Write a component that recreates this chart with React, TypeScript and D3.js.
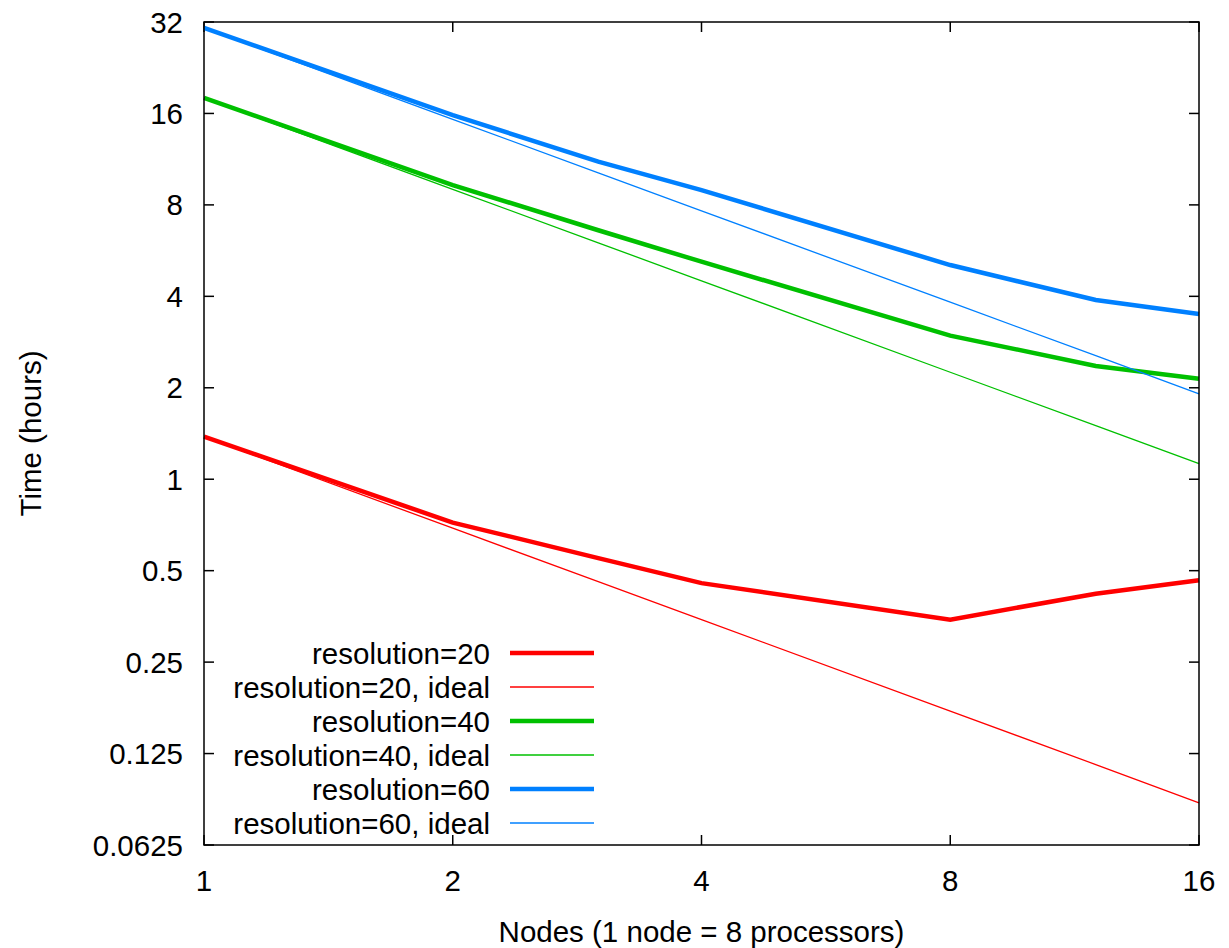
import React from "react";
import * as d3 from "d3";

// nodes on the x axis (log2), times in hours on the y axis (log2)
const nodes = [1, 2, 3, 4, 8, 12, 16];
const res20 = [1.38, 0.72, 0.55, 0.455, 0.345, 0.42, 0.465];
const res20Ideal = [1.38, 0.69, 0.46, 0.345, 0.1725, 0.115, 0.086];
const res40 = [18.0, 9.3, 6.6, 5.2, 2.97, 2.36, 2.14];
const res40Ideal = [18.0, 9.0, 6.0, 4.5, 2.25, 1.5, 1.125];
const res60 = [30.6, 15.8, 11.1, 8.95, 5.07, 3.89, 3.5];
const res60Ideal = [30.6, 15.3, 10.2, 7.65, 3.825, 2.55, 1.91];

const xTicks = [1, 2, 4, 8, 16];
const yTicks = [0.0625, 0.125, 0.25, 0.5, 1, 2, 4, 8, 16, 32];
const yTickLabels = ["0.0625", "0.125", "0.25", "0.5", "1", "2", "4", "8", "16", "32"];

const series = [
  { name: "resolution=20", values: res20, color: "#ff0000", width: 4.5 },
  { name: "resolution=20, ideal", values: res20Ideal, color: "#ff0000", width: 1.3 },
  { name: "resolution=40", values: res40, color: "#00c000", width: 4.5 },
  { name: "resolution=40, ideal", values: res40Ideal, color: "#00c000", width: 1.3 },
  { name: "resolution=60", values: res60, color: "#0080ff", width: 4.5 },
  { name: "resolution=60, ideal", values: res60Ideal, color: "#0080ff", width: 1.3 },
];

const App = () => {
  const width = 1229;
  const height = 948;
  const left = 204;
  const right = 1199;
  const top = 22;
  const bottom = 845;
  const font = "'Liberation Sans', Arial, sans-serif";
  const fontSize = 29.5;

  const x = d3.scaleLog().base(2).domain([1, 16]).range([left, right]);
  const y = d3.scaleLog().base(2).domain([0.0625, 32]).range([bottom, top]);

  const line = d3
    .line<number>()
    .x((_, i) => x(nodes[i]))
    .y((d) => y(d));

  return (
    <svg
      width={width}
      height={height}
      style={{ position: "absolute", left: 0, top: 0, background: "#fff" }}
      fontFamily={font}
      fontSize={fontSize}
    >
      <rect width={width} height={height} fill="#fff" />

      {/* y ticks, both sides */}
      {yTicks.map((t, i) => (
        <g key={t}>
          <line x1={left} x2={left + 10} y1={y(t)} y2={y(t)} stroke="#000" strokeWidth={1.5} />
          <line x1={right - 10} x2={right} y1={y(t)} y2={y(t)} stroke="#000" strokeWidth={1.5} />
          <text x={183} y={y(t)} textAnchor="end" dominantBaseline="central" fill="#000">
            {yTickLabels[i]}
          </text>
        </g>
      ))}

      {/* x ticks, bottom and top */}
      {xTicks.map((t) => (
        <g key={t}>
          <line x1={x(t)} x2={x(t)} y1={bottom} y2={bottom - 10} stroke="#000" strokeWidth={1.5} />
          <line x1={x(t)} x2={x(t)} y1={top} y2={top + 10} stroke="#000" strokeWidth={1.5} />
          <text x={x(t)} y={880} textAnchor="middle" dominantBaseline="central" fill="#000">
            {t}
          </text>
        </g>
      ))}

      {/* series */}
      {series.map((s) => (
        <path
          key={s.name}
          d={line(s.values) ?? ""}
          fill="none"
          stroke={s.color}
          strokeWidth={s.width}
          strokeLinejoin="miter"
        />
      ))}

      {/* legend */}
      <g>
        {series.map((s, i) => (
          <g key={s.name} transform={`translate(0, ${653 + i * 34})`}>
            <text x={490} y={0} textAnchor="end" dominantBaseline="central" fill="#000">
              {s.name}
            </text>
            <line x1={510} x2={594} y1={0} y2={0} stroke={s.color} strokeWidth={s.width} />
          </g>
        ))}
      </g>

      <rect
        x={left}
        y={top}
        width={right - left}
        height={bottom - top}
        fill="none"
        stroke="#000"
        strokeWidth={1.5}
      />

      <text x={(left + right) / 2} y={931} textAnchor="middle" dominantBaseline="central" fill="#000">
        Nodes (1 node = 8 processors)
      </text>
      <text
        transform={`translate(30, ${(top + bottom) / 2}) rotate(-90)`}
        textAnchor="middle"
        dominantBaseline="central"
        fill="#000"
      >
        Time (hours)
      </text>
    </svg>
  );
};

export default App;
